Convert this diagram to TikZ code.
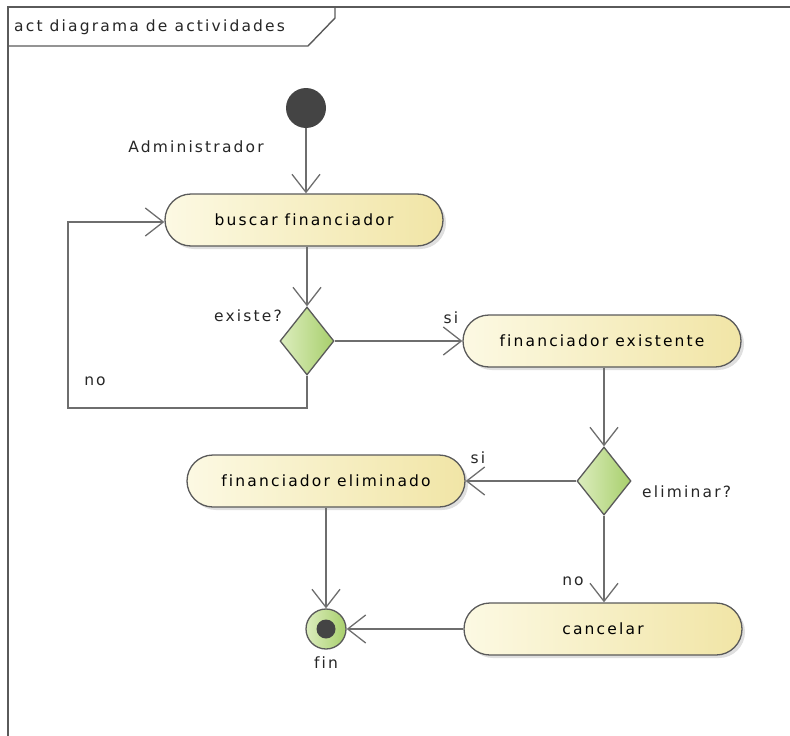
\documentclass[tikz,border=0pt]{standalone}
\usepackage{fontspec}
\setmainfont{DejaVu Sans}[LetterSpace=14, Ligatures={NoCommon}]
\usetikzlibrary{arrows.meta,shapes.geometric,shadows}
\definecolor{lineg}{HTML}{6E6E6E}
\definecolor{edgeg}{HTML}{5A5A5A}
\definecolor{creamL}{HTML}{FCF9E3}
\definecolor{creamR}{HTML}{F1E5A6}
\definecolor{greenL}{HTML}{DCEDBE}
\definecolor{greenR}{HTML}{A8CF6C}
\definecolor{dot}{HTML}{444444}
\begin{document}
\begin{tikzpicture}[x=1pt,y=-1pt,
  font=\fontsize{15.5}{18}\selectfont,
  txt/.style={text=black!85, inner sep=0pt},
  act/.style={draw=edgeg, line width=1.3pt, rounded corners=26pt,
    minimum width=278pt, minimum height=52pt, left color=creamL, right color=creamR,
    drop shadow={shadow xshift=3pt, shadow yshift=-3pt, opacity=0.25, fill=gray}},
  dec/.style={diamond, draw=edgeg, line width=1.3pt, inner sep=0pt,
    minimum width=54pt, minimum height=68pt, left color=greenL, right color=greenR},
  flow/.style={draw=lineg, line width=1.4pt,
    -{Straight Barb[length=18pt,width=28pt,line width=1.3pt]}},
  wire/.style={draw=lineg, line width=1.4pt}]
\useasboundingbox (0,0) rectangle (790,736);
% frame
\draw[edgeg, line width=1.4pt] (800,7) -- (8,7) -- (8,750);
\draw[edgeg, line width=1.4pt] (8,46) -- (308,46) -- (335,18) -- (335,7);
\node[txt, anchor=west] (title) at (14,27) {act diagrama de actividades};
% nodes
\node[circle, fill=dot, minimum size=40pt, inner sep=0pt] (start) at (306,108) {};
\node[txt] (admin) at (196,147) {Administrador};
\node[act] (buscar) at (304,220) {buscar financiador};
\node[dec] (existe) at (307,341) {};
\node[txt] (existeL) at (248,316) {existe?};
\node[act] (existente) at (602,341) {financiador existente};
\node[txt] (si1) at (451,318) {si};
\node[txt] (no1) at (95,381) {no};
\node[dec] (eliminar) at (604,481) {};
\node[txt, anchor=west] (eliminarL) at (642,492) {eliminar?};
\node[act] (eliminado) at (326,481) {financiador eliminado};
\node[txt] (si2) at (478,458) {si};
\node[act] (cancelar) at (603,629) {cancelar};
\node[txt] (no2) at (573,581) {no};
\node[circle, draw=edgeg, line width=1.3pt, left color=greenL, right color=greenR,
  minimum size=40pt, inner sep=0pt] (fin) at (326,629) {};
\node[circle, fill=dot, minimum size=19pt, inner sep=0pt] (findot) at (fin.center) {};
\node[txt] (finL) at (326,663) {fin};
\coordinate (c1) at (307,408);
\coordinate (c2) at (68,408);
\coordinate (c3) at (68,222);
% edges
\draw[flow] (start) -- (buscar.north -| start);
\draw[flow] (buscar.south -| existe) -- (existe.north);
\draw[flow] (existe.east) -- (existente.west);
\draw[flow] (existe.south) -- (c1) -- (c2) -- (c3) -- (buscar.west |- c3);
\draw[flow] (existente.south -| eliminar) -- (eliminar.north);
\draw[flow] (eliminar.west) -- (eliminado.east);
\draw[flow] (eliminar.south) -- (cancelar.north -| eliminar);
\draw[flow] (eliminado.south) -- (fin.north);
\draw[flow] (cancelar.west) -- (fin.east);
\end{tikzpicture}
\end{document}
